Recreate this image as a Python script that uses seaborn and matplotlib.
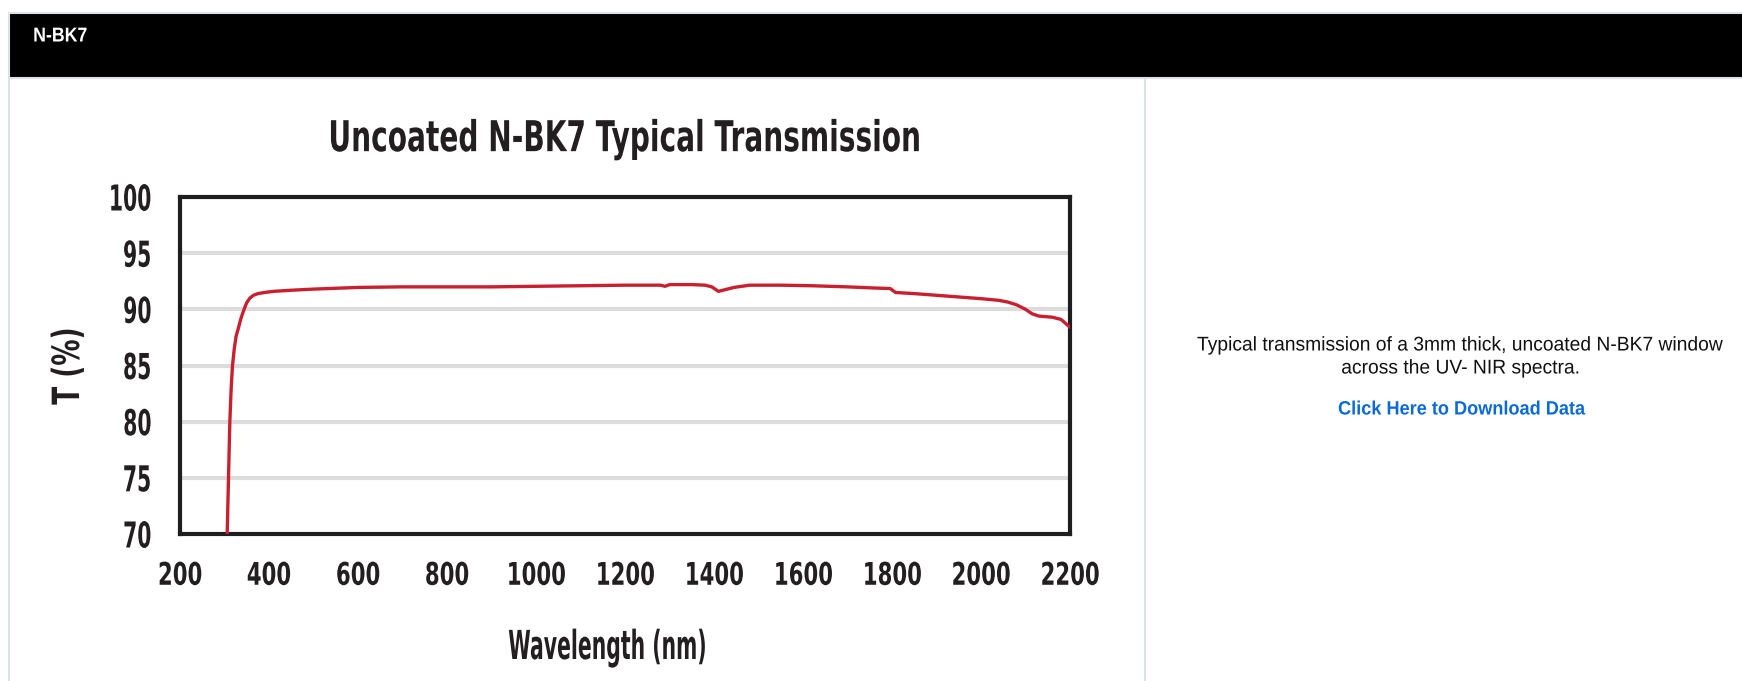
import matplotlib
matplotlib.use("Agg")
import matplotlib.pyplot as plt
from matplotlib.patches import Rectangle
from matplotlib.lines import Line2D
from matplotlib.patheffects import AbstractPathEffect
from matplotlib.transforms import Affine2D
import seaborn as sns
import pandas as pd

# ---- data ----
wavelength_nm = [306, 309, 312, 315, 318, 322, 326, 331, 337, 344, 350, 357, 365, 375,
                 390, 410, 450, 500, 600, 700, 800, 900, 1000, 1100, 1200, 1280, 1290,
                 1300, 1350, 1380, 1395, 1410, 1425, 1445, 1480, 1550, 1620, 1700, 1760,
                 1796, 1808, 1850, 1900, 1950, 2000, 2040, 2060, 2080, 2100, 2115, 2130,
                 2160, 2180, 2200]
transmission_pct = [70, 75, 80, 83, 85, 86.5, 87.6, 88.3, 89.2, 90.0, 90.6, 91.0, 91.25,
                    91.4, 91.5, 91.6, 91.7, 91.8, 91.95, 92.0, 92.0, 92.0, 92.05, 92.1,
                    92.15, 92.15, 92.05, 92.2, 92.2, 92.15, 92.0, 91.6, 91.75, 91.95, 92.15,
                    92.15, 92.1, 92.0, 91.9, 91.85, 91.5, 91.4, 91.25, 91.1, 90.95, 90.8,
                    90.65, 90.4, 90.0, 89.6, 89.4, 89.3, 89.1, 88.4]
x_ticks = [200, 400, 600, 800, 1000, 1200, 1400, 1600, 1800, 2000, 2200]
y_ticks = [70, 75, 80, 85, 90, 95, 100]

header_text = "N-BK7"
chart_title = "Uncoated N-BK7 Typical Transmission"
x_label = "Wavelength (nm)"
y_label = "T (%)"
caption_lines = ["Typical transmission of a 3mm thick, uncoated N-BK7 window",
                 "across the UV- NIR spectra."]
link_text = "Click Here to Download Data"

df = pd.DataFrame({"Wavelength": wavelength_nm, "T": transmission_pct})


class Condense(AbstractPathEffect):
    """Narrow the glyphs of a text along its writing direction (condensed look)."""

    def __init__(self, sx, anchor="center"):
        super().__init__()
        self.sx = sx
        self.anchor = anchor

    def draw_path(self, renderer, gc, tpath, affine, rgbFace=None):
        ext = tpath.get_extents()
        if self.anchor == "right":
            cx = ext.x1
        elif self.anchor == "left":
            cx = ext.x0
        else:
            cx = 0.5 * (ext.x0 + ext.x1)
        t = Affine2D().translate(-cx, 0).scale(self.sx, 1).translate(cx, 0) + affine
        renderer.draw_path(gc, tpath, t, rgbFace)


sns.set_theme(style="white")
plt.rcParams["font.family"] = ["DejaVu Sans"]
ink = "#231f20"

W, H = 1742, 681
fig = plt.figure(figsize=(W / 100, H / 100), dpi=100)
fig.patch.set_facecolor("white")

# page frame
border = "#dde2e6"
fig.add_artist(Rectangle((9 / W, 1 - 78 / H), (W - 9) / W, 65 / H, transform=fig.transFigure,
                         facecolor="black", edgecolor="none", zorder=0))
fig.add_artist(Line2D([9 / W, 1], [1 - 13 / H, 1 - 13 / H], transform=fig.transFigure,
                      color=border, lw=1.5))
fig.add_artist(Line2D([9 / W, 1], [1 - 78 / H, 1 - 78 / H], transform=fig.transFigure,
                      color=border, lw=1.5))
fig.add_artist(Line2D([9 / W, 9 / W], [0, 1 - 13 / H], transform=fig.transFigure,
                      color=border, lw=1.5))
fig.add_artist(Line2D([1145 / W, 1145 / W], [0, 1 - 78 / H], transform=fig.transFigure,
                      color=border, lw=1.5))
fig.text(33 / W, 1 - 36 / H, header_text, family="Liberation Sans", color="white",
         fontsize=14.5, fontweight="bold", ha="left", va="center",
         path_effects=[Condense(0.88, "left")])

ax = fig.add_axes([180 / W, 1 - 534 / H, 890 / W, 337 / H])
sns.lineplot(data=df, x="Wavelength", y="T", ax=ax, color="#c8202f", lw=2.4, zorder=3)
ax.set_xlim(200, 2200)
ax.set_ylim(70, 100)
ax.set_xticks(x_ticks)
ax.set_yticks(y_ticks)
for yv in y_ticks[1:-1]:
    ax.axhline(yv, color="#dcdcdc", lw=3, zorder=1)
ax.grid(False)
for s in ax.spines.values():
    s.set_color("#1e1e1e")
    s.set_linewidth(3)
    s.set_visible(True)
ax.tick_params(axis="both", length=0, colors=ink)
ax.tick_params(axis="y", pad=20)
ax.tick_params(axis="x", pad=20)
for lab in ax.get_xticklabels():
    lab.set_fontweight("bold")
    lab.set_fontsize(22.5)
    lab.set_path_effects([Condense(0.68, "center")])
for lab in ax.get_yticklabels():
    lab.set_fontweight("bold")
    lab.set_fontsize(25.7)
    lab.set_path_effects([Condense(0.57, "right")])

ax.set_xlabel(x_label, fontweight="bold", fontsize=28.8, color=ink,
              path_effects=[Condense(0.51, "center")])
ax.xaxis.set_label_coords(0.481, -0.279)
ax.set_ylabel(y_label, fontweight="bold", fontsize=27, color=ink,
              path_effects=[Condense(0.7, "center")])
ax.yaxis.set_label_coords(-0.1045, 0.5)
ax.set_title(chart_title, fontweight="bold", fontsize=30.6, color=ink, pad=33,
             path_effects=[Condense(0.66, "center")])

fig.text(1461 / W, 1 - 345 / H, caption_lines[0], family="Liberation Sans", ha="center",
         va="center", fontsize=14.3, color="#111111", path_effects=[Condense(0.97, "center")])
fig.text(1461 / W, 1 - 368 / H, caption_lines[1], family="Liberation Sans", ha="center",
         va="center", fontsize=14.3, color="#111111", path_effects=[Condense(0.97, "center")])
fig.text(1461 / W, 1 - 410 / H, link_text, family="Liberation Sans", ha="center",
         va="center", fontsize=13.9, fontweight="bold", color="#0a6ad6",
         path_effects=[Condense(0.94, "center")])

fig.savefig("out.png", dpi=100)
